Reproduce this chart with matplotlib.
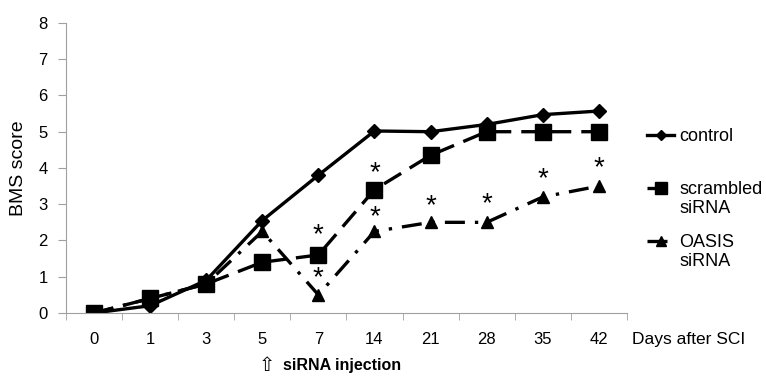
import matplotlib
matplotlib.use("Agg")
from matplotlib import pyplot as plt
from matplotlib.ticker import FixedLocator

plt.rcParams['font.family'] = ['Liberation Sans', 'DejaVu Sans']

days = ['0', '1', '3', '5', '7', '14', '21', '28', '35', '42']
control = [0, 0.2, 0.9, 2.55, 3.8, 5.02, 5.0, 5.2, 5.47, 5.57]
scrambled = [0, 0.4, 0.8, 1.4, 1.6, 3.4, 4.35, 5.0, 5.0, 5.0]
oasis = [0, 0.4, 0.8, 2.25, 0.5, 2.25, 2.5, 2.5, 3.2, 3.5]

# significance marks: (day index, height)
star_idx = [4, 5, 4, 5, 6, 7, 8, 9]
star_y = [2.15, 3.85, 0.95, 2.65, 2.95, 3.0, 3.7, 4.0]

x = list(range(len(days)))

fig = plt.figure(figsize=(7.66, 3.76), dpi=100)
ax = fig.add_axes([0.086, 0.1676, 0.7325, 0.7714])

ax.plot(x, control, color='black', lw=2.4, marker='D', ms=7, label='control')
ax.plot(x, scrambled, color='black', lw=2.4, ls=(0, (6, 3)), marker='s', ms=12,
        label='scrambled')
ax.plot(x, oasis, color='black', lw=2.4, ls=(0, (6, 3, 1, 3)), marker='^', ms=9,
        label='OASIS')

for i, yv in zip(star_idx, star_y):
    ax.text(i, yv, '*', ha='center', va='center', fontsize=20)

ax.set_xlim(-0.5, len(days) - 0.5)
ax.set_ylim(0, 8)
ax.set_yticks(range(0, 9))
ax.set_xticks(x)
ax.set_xticklabels(days)
ax.xaxis.set_minor_locator(FixedLocator([i - 0.5 for i in range(len(days) + 1)]))
ax.tick_params(axis='x', which='major', length=0, pad=14, labelsize=12)
ax.tick_params(axis='x', which='minor', length=5, color='#a0a0a0', direction='out')
ax.tick_params(axis='y', length=6, color='#a0a0a0', labelsize=12, pad=7)

for s in ['top', 'right']:
    ax.spines[s].set_visible(False)
for s in ['left', 'bottom']:
    ax.spines[s].set_color('#a0a0a0')

ax.set_ylabel('BMS score', fontsize=14, labelpad=8)
fig.text(0.825, 0.0984, 'Days after SCI', fontsize=12.5, ha='left', va='center')
fig.text(0.338, 0.029, '\u21e7', fontsize=14, ha='left', va='center', family=['DejaVu Sans'])
fig.text(0.3695, 0.027, 'siRNA injection', fontsize=11.5, fontweight='bold', ha='left', va='center')

fig.legend(loc='upper left', bbox_to_anchor=(0.8447, 0.660), bbox_transform=fig.transFigure,
           frameon=False, fontsize=13, borderpad=0, borderaxespad=0,
           handlelength=1.5, handletextpad=0.3, labelspacing=2.0, markerscale=0.75)
fig.text(0.8877, 0.4468, 'siRNA', fontsize=13, ha='left', va='center')
fig.text(0.8877, 0.3032, 'siRNA', fontsize=13, ha='left', va='center')

fig.savefig('out.png', dpi=100)
